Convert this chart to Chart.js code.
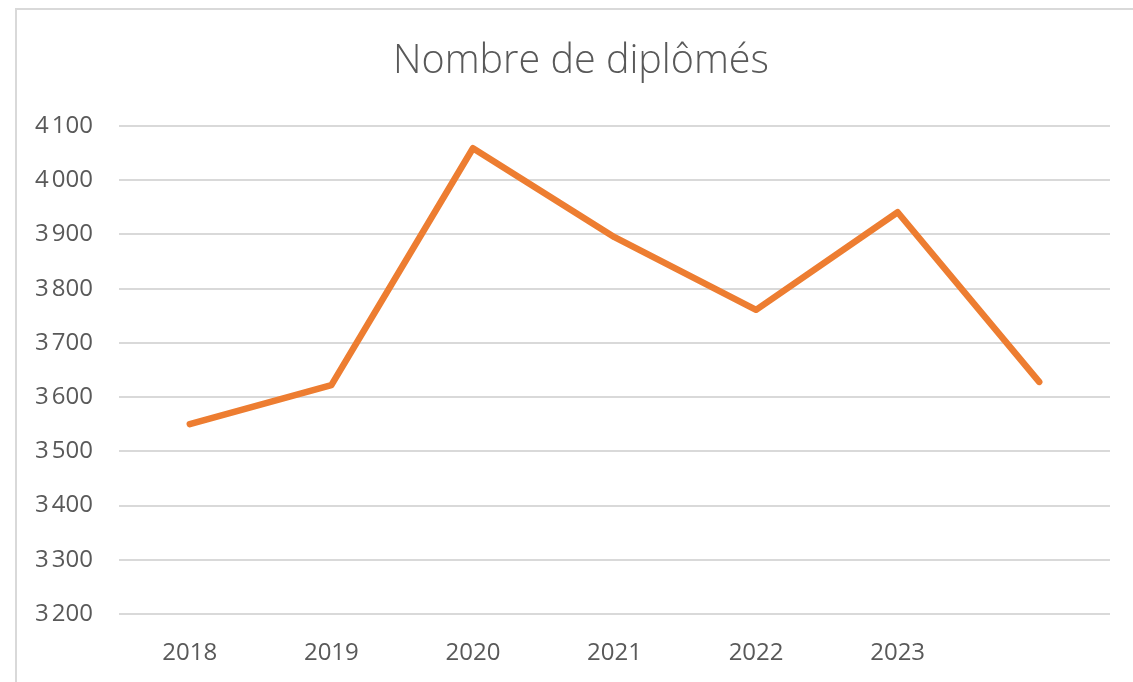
<!DOCTYPE html>
<html>
<head>
<meta charset="utf-8">
<script src="https://cdn.jsdelivr.net/npm/chart.js@4.4.1/dist/chart.umd.min.js"></script>
<style>
  html, body { margin: 0; padding: 0; background: #fff; }
  #wrap { position: relative; width: 1133px; height: 682px; }
  #frame { position: absolute; left: 15px; top: 8px; right: 0; bottom: 0;
           border-left: 2px solid #d9d9d9; border-top: 2px solid #d9d9d9; }
  canvas { position: absolute; left: 0; top: 0; }
</style>
</head>
<body>
<div id="wrap">
  <div id="frame"></div>
  <canvas id="chart" width="1133" height="682"></canvas>
</div>
<script>
// Chart data
const years = ['2018', '2019', '2020', '2021', '2022', '2023', ''];
const graduates = [3550, 3622, 4059, 3895, 3761, 3941, 3628];
const yMin = 3200;
const yMax = 4100;
const yStep = 100;

const textColor = '#595959';
const font = '"Open Sans", sans-serif';

const chart = new Chart(document.getElementById('chart'), {
    type: 'line',
    data: {
        labels: years,
        datasets: [{
            label: 'Nombre de diplômés',
            data: graduates,
            borderColor: '#ed7d31',
            borderWidth: 6.5,
            borderCapStyle: 'round',
            borderJoinStyle: 'round',
            pointRadius: 0,
            tension: 0
        }]
    },
    options: {
        responsive: false,
        animation: false,
        layout: {
            padding: { left: 29, right: 0, top: 0, bottom: 0 }
        },
        plugins: {
            legend: { display: false },
            tooltip: { enabled: false },
            title: {
                display: true,
                text: 'Nombre de diplômés',
                color: textColor,
                font: { family: font, size: 39.5, weight: 300, lineHeight: 1.2 },
                padding: { top: 38.5, bottom: 40.1 }
            }
        },
        scales: {
            x: {
                offset: true,
                grid: { display: false, drawTicks: false },
                border: { display: false },
                ticks: {
                    color: textColor,
                    font: { family: font, size: 24 },
                    padding: 25,
                    maxRotation: 0,
                    autoSkip: false
                },
                afterFit: (scale) => { scale.height = 68; }
            },
            y: {
                min: yMin,
                max: yMax,
                grid: { color: '#d9d9d9', lineWidth: 2, drawTicks: false },
                border: { display: false },
                ticks: {
                    stepSize: yStep,
                    color: textColor,
                    font: { family: font, size: 24 },
                    padding: 26,
                    callback: (value) => value.toLocaleString('fr-FR')
                },
                afterFit: (scale) => { scale.width = 90; }
            },
            // empty right axis, only keeps the plot area off the right edge
            yRight: {
                position: 'right',
                grid: { display: false, drawTicks: false },
                border: { display: false },
                ticks: { display: false },
                afterFit: (scale) => { scale.width = 23; }
            }
        }
    }
});
</script>
</body>
</html>
